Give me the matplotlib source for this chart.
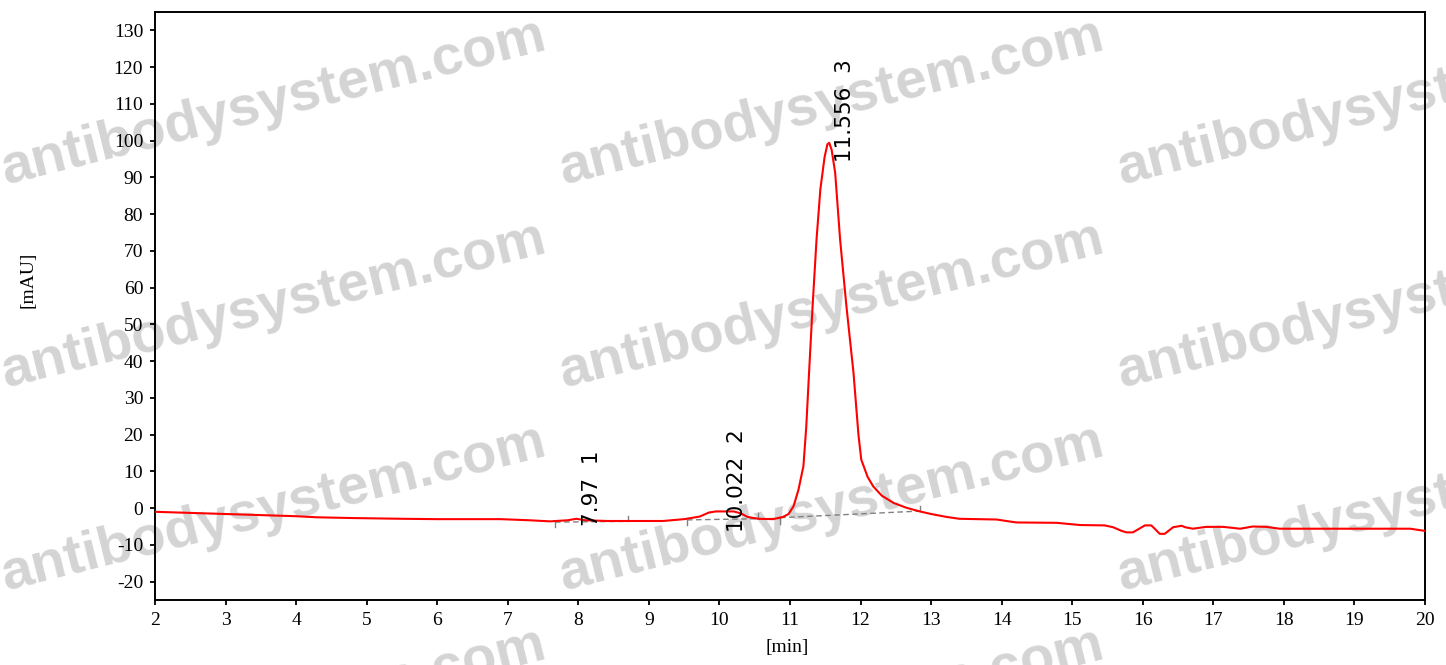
import numpy as np
import matplotlib
matplotlib.use("Agg")
import matplotlib.pyplot as plt

plt.rcParams["axes.unicode_minus"] = False

# chromatogram trace
time_min = [2.0, 2.5, 3.0, 3.5, 4.0, 4.3, 4.8, 5.5, 6.0, 6.9, 7.3, 7.6, 7.85, 7.97, 8.1,
            8.4, 9.2, 9.5, 9.72, 9.85, 9.95, 10.2, 10.3, 10.4, 10.55, 10.76, 10.9, 10.98,
            11.05, 11.12, 11.19, 11.23, 11.27, 11.32, 11.376, 11.43, 11.49, 11.53, 11.556,
            11.59, 11.64, 11.71, 11.80, 11.90, 11.97, 12.01, 12.10, 12.18, 12.30, 12.47,
            12.65, 12.84, 13.0, 13.22, 13.4, 13.93, 14.1, 14.21, 14.78, 15.11, 15.46, 15.58,
            15.70, 15.77, 15.86, 15.95, 16.03, 16.12, 16.18, 16.24, 16.31, 16.43, 16.55,
            16.60, 16.71, 16.90, 17.14, 17.38, 17.56, 17.75, 17.94, 18.5, 19.0, 19.79, 20.0]
signal_mau = [-1.0, -1.3, -1.6, -1.9, -2.2, -2.5, -2.7, -2.9, -3.0, -3.0, -3.3, -3.6, -3.3,
              -2.9, -3.3, -3.5, -3.5, -3.0, -2.3, -1.2, -0.9, -0.9, -1.4, -2.4, -2.9, -3.0,
              -2.4, -1.6, 0.5, 5.0, 11.4, 22.0, 36.8, 54.9, 73.1, 86.7, 95.5, 99.0, 99.4,
              97.5, 91.3, 73.1, 54.9, 36.8, 20.0, 13.2, 8.5, 5.9, 3.4, 1.4, 0.1, -0.9, -1.6,
              -2.4, -2.9, -3.1, -3.6, -3.9, -4.0, -4.6, -4.7, -5.2, -6.2, -6.6, -6.6, -5.6,
              -4.7, -4.7, -5.8, -7.0, -7.0, -5.2, -4.8, -5.2, -5.6, -5.1, -5.1, -5.6, -5.0,
              -5.1, -5.6, -5.6, -5.6, -5.6, -6.2]

# peaks
peak_rt = [7.97, 10.022, 11.556]
peak_no = [1, 2, 3]
label_y = [-5.0, -6.4, 94.1]

# integration baselines
base_t0 = [7.67, 9.54, 10.86]
base_t1 = [8.70, 10.86, 12.84]
base_y0 = [-3.8, -3.2, -2.6]
base_y1 = [-3.6, -2.8, -0.8]
mark_t = [7.67, 8.70, 9.54, 10.55, 10.86, 12.84]
mark_dir = [-1, 1, -1, 1, -1, 1]

fig = plt.figure(figsize=(14.46, 6.65), dpi=100)
ax = fig.add_axes([155 / 1446, 65 / 665, 1270 / 1446, 588 / 665])
ax.set_facecolor("none")

# watermark behind everything
for row_y in [184, 387, 590, 793]:
    for col_x in [5, 563, 1121]:
        fig.text(col_x / 1446, 1 - row_y / 665, "antibodysystem.com",
                 fontsize=40.5, family="Liberation Sans", fontweight="bold",
                 color="#d4d4d4", rotation=14, rotation_mode="anchor",
                 ha="left", va="baseline", zorder=-5)

ax.plot(time_min, signal_mau, color="#ff0000", linewidth=1.5, zorder=3)

for t0, t1, y0, y1 in zip(base_t0, base_t1, base_y0, base_y1):
    ax.plot([t0, t1], [y0, y1], color="#808080", linestyle=(0, (4, 2.5)),
            linewidth=1.0, zorder=2)

bt = np.concatenate([base_t0, base_t1])
by = np.concatenate([base_y0, base_y1])
order = np.argsort(bt)
for t, d in zip(mark_t, mark_dir):
    yb = np.interp(t, bt[order], by[order])
    ax.plot([t, t], [yb, yb + 1.4 * d], color="#808080", linewidth=1.0, zorder=2)

for rt, n, ly in zip(peak_rt, peak_no, label_y):
    ax.text(rt + 0.23, ly, f"{rt:g}  {n}", rotation=90, ha="center", va="bottom",
            fontsize=15.5, family="DejaVu Sans", color="black", zorder=4)

ax.set_xlim(2, 20)
ax.set_ylim(-25, 135)
ax.set_xticks(range(2, 21))
ax.set_yticks(range(-20, 131, 10))

for sp in ax.spines.values():
    sp.set_linewidth(1.4)
ax.tick_params(direction="out", length=3.5, width=1.3, pad=5, top=False, right=False)
for lab in ax.get_xticklabels() + ax.get_yticklabels():
    lab.set_family("Liberation Serif")
    lab.set_fontsize(14)

ax.set_xlabel("[min]", family="Liberation Serif", fontsize=14)
ax.set_ylabel("[mAU]", family="Liberation Serif", fontsize=14)
ax.xaxis.set_label_coords(0.4976, -0.066)
ax.yaxis.set_label_coords(-0.093, 0.544)

fig.savefig("out.png", dpi=100)
